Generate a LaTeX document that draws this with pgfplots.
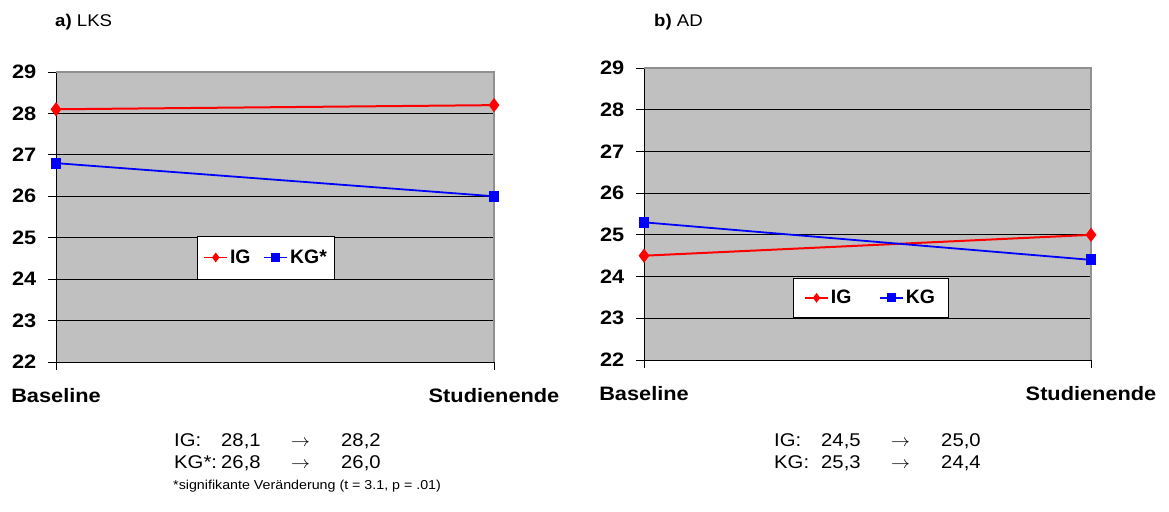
\documentclass[border=0pt]{standalone}
\usepackage{pgfplots}
\pgfplotsset{compat=1.18}
\usepackage{fontspec}
\setmainfont{Liberation Sans}
\definecolor{plotbg}{HTML}{C0C0C0}
\definecolor{frame}{HTML}{909090}
\begin{document}
\begin{tikzpicture}[x=1bp,y=1bp]
\useasboundingbox (0,0) rectangle (1169,512);
\pgfplotsset{
 myax/.style={
  scale only axis, xmin=0, xmax=1, ymin=22, ymax=29,
  xtick={0,1}, xticklabels={Baseline,Studienende},
  ytick={22,23,...,29},
  /pgf/number format/assume math mode=true,
  axis background/.style={fill=plotbg},
  axis x line*=bottom, axis y line*=left,
  axis line style={black, line width=0.8bp},
  ymajorgrids, grid style={black, line width=0.8bp},
  tick style={black, line width=0.8bp},
  tick align=outside, major tick length=8bp,
  tick label style={font=\fontsize{19.5}{22}\selectfont\bfseries, xscale=1.12},
  xticklabel style={yshift=-15bp},
  yticklabel style={xshift=-7bp},
  clip=false,
  legend style={draw=black, line width=0.8bp, fill=white, font=\fontsize{19.5}{22}\selectfont\bfseries,
    legend columns=2, inner xsep=3bp, inner ysep=6bp,
    nodes={inner xsep=2bp, inner ysep=8bp}},
  legend cell align=left,
  legend image code/.code={%
    \draw[mark repeat=2, mark phase=2, mark size=3.6bp, line width=1.6bp]
      plot coordinates {(0bp,0bp) (11.5bp,0bp) (23bp,0bp)};},
 },
 igs/.style={red, line width=2bp, mark=diamond*, mark size=5.5bp, mark options={solid, fill=red}},
 kgs/.style={blue, line width=1.8bp, mark=square*, mark size=4.5bp, mark options={solid, fill=blue}},
}
\begin{axis}[myax, at={(56bp,150bp)}, anchor=south west, width=438bp, height=290bp,
  legend style={at={(0.322,0.436)}, anchor=north west, inner xsep=6bp,
    /tikz/every even column/.append style={column sep=11bp}}]
\addplot[igs] coordinates {(0,28.1) (1,28.2)};
\addplot[kgs] coordinates {(0,26.8) (1,26.0)};
\legend{IG,KG*}
\draw[frame, line width=1.2bp] (rel axis cs:0,1) -- (rel axis cs:1,1) -- (rel axis cs:1,0);
\end{axis}
\begin{axis}[myax, at={(644bp,152bp)}, anchor=south west, width=447bp, height=292bp,
  legend style={at={(0.333,0.281)}, anchor=north west, inner xsep=11bp, inner ysep=4.5bp,
    nodes={inner ysep=7.5bp},
    /tikz/every even column/.append style={column sep=26bp}}]
\addplot[igs] coordinates {(0,24.5) (1,25.0)};
\addplot[kgs] coordinates {(0,25.3) (1,24.4)};
\legend{IG,KG}
\draw[frame, line width=1.2bp] (rel axis cs:0,1) -- (rel axis cs:1,1) -- (rel axis cs:1,0);
\end{axis}
% titles
\node[anchor=base west, inner sep=0, font=\fontsize{17}{20}\selectfont, xscale=1.1] at (55,485) {\textbf{a)} LKS};
\node[anchor=base west, inner sep=0, font=\fontsize{17}{20}\selectfont, xscale=1.1] at (654,485) {\textbf{b)} AD};
% bottom texts
\begin{scope}[every node/.style={anchor=base west, inner sep=0, font=\fontsize{18.5}{21}\selectfont, xscale=1.1}]
\node at (174,65) {IG:};
\node at (221,65) {28,1};
\node at (291,65) {$\rightarrow$};
\node at (341,65) {28,2};
\node at (174,43) {KG*:};
\node at (221,43) {26,8};
\node at (291,43) {$\rightarrow$};
\node at (341,43) {26,0};
\node at (774,65) {IG:};
\node at (821,65) {24,5};
\node at (891,65) {$\rightarrow$};
\node at (941,65) {25,0};
\node at (774,43) {KG:};
\node at (821,43) {25,3};
\node at (891,43) {$\rightarrow$};
\node at (941,43) {24,4};
\end{scope}
\node[anchor=base west, inner sep=0, font=\fontsize{13}{15}\selectfont, xscale=1.1] at (173,22) {*signifikante Veränderung (t = 3.1, p = .01)};
\end{tikzpicture}
\end{document}
